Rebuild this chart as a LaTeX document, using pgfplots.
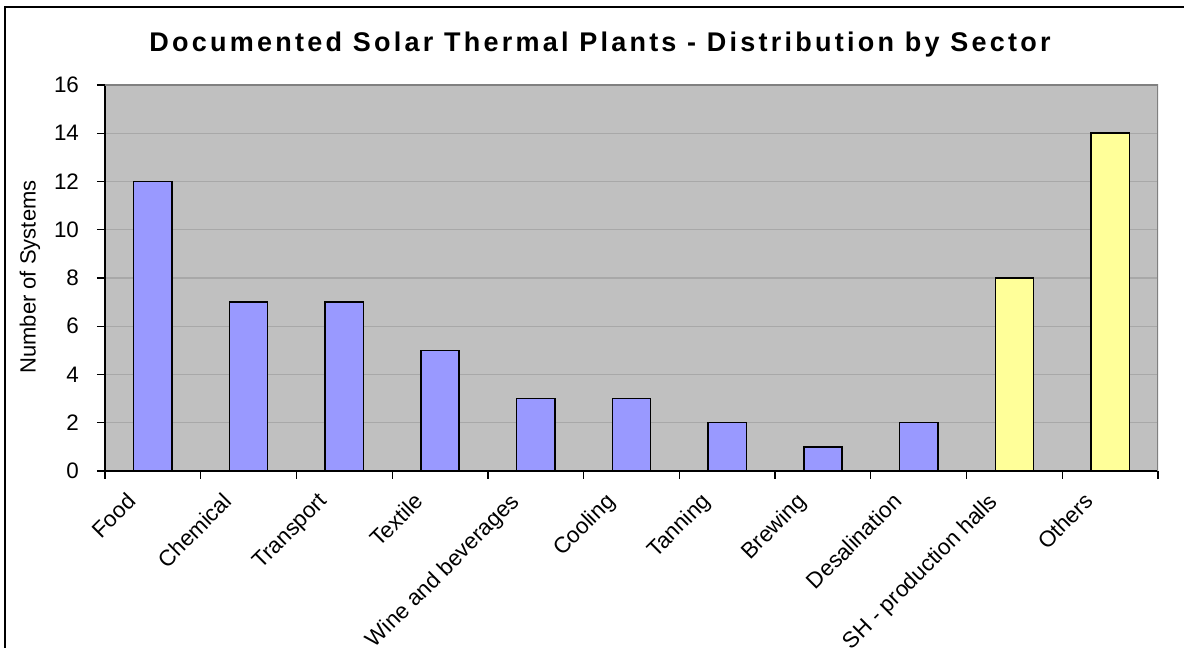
\documentclass[border=0pt]{standalone}
\usepackage{fontspec}
\setmainfont{Liberation Sans}
\newfontfamily\titlefont[LetterSpace=12]{Liberation Sans}
\usepackage{pgfplots}
\pgfplotsset{compat=1.18}
\definecolor{plotbg}{HTML}{C0C0C0}
\definecolor{barblue}{HTML}{9999FF}
\definecolor{baryellow}{HTML}{FFFF99}
\definecolor{gridgray}{HTML}{A8A8A8}
\definecolor{framegray}{HTML}{808080}

\begin{document}
\begin{tikzpicture}
\path[use as bounding box] (0pt,0pt) rectangle (592pt,324pt);
\draw[black, line width=0.8pt] (2.5pt,0pt) -- (2.5pt,320.5pt) -- (592pt,320.5pt);
\begin{axis}[
  at={(52.5pt,88.5pt)}, anchor=south west,
  scale only axis, width=526.5pt, height=193pt,
  axis background/.style={fill=plotbg},
  xmin=0.5, xmax=11.5, ymin=0, ymax=16,
  ytick={0,2,...,16},
  ymajorgrids, grid style={gridgray, line width=0.6pt},
  xtick={0.5,1.5,...,11.5}, x tick label as interval,
  xticklabels={Food,Chemical,Transport,Textile,Wine and beverages,Cooling,Tanning,Brewing,Desalination,SH - production halls,Others},
  axis lines=left, axis line style={-, black, line width=0.7pt},
  tick align=outside, major tick length=4pt, tick style={black, line width=0.6pt},
  ticklabel style={font=\fontsize{11.2}{13}\selectfont},
  /pgf/number format/assume math mode=true,
  yticklabel style={xshift=-5.5pt},
  xticklabel style={xshift=-13.5pt, yshift=-6pt, rotate=45, anchor=north east, inner sep=0pt},
  ybar, bar width=0.4, bar shift=0pt,
]
\addplot[fill=barblue, draw=black, line width=0.75pt] coordinates {(1,12) (2,7) (3,7) (4,5) (5,3) (6,3) (7,2) (8,1) (9,2)};
\addplot[fill=baryellow, draw=black, line width=0.75pt] coordinates {(10,8) (11,14)};
\draw[framegray, line width=0.8pt] (rel axis cs:0,1) -- (rel axis cs:1,1) -- (rel axis cs:1,0);
\end{axis}
\node[rotate=90, font=\fontsize{11}{13}\selectfont] at (15pt,185.5pt) {Number of Systems};
\node[font=\titlefont\bfseries\fontsize{13.5}{16}\selectfont] at (300pt,301.5pt) {Documented Solar Thermal Plants - Distribution by Sector};
\end{tikzpicture}
\end{document}
